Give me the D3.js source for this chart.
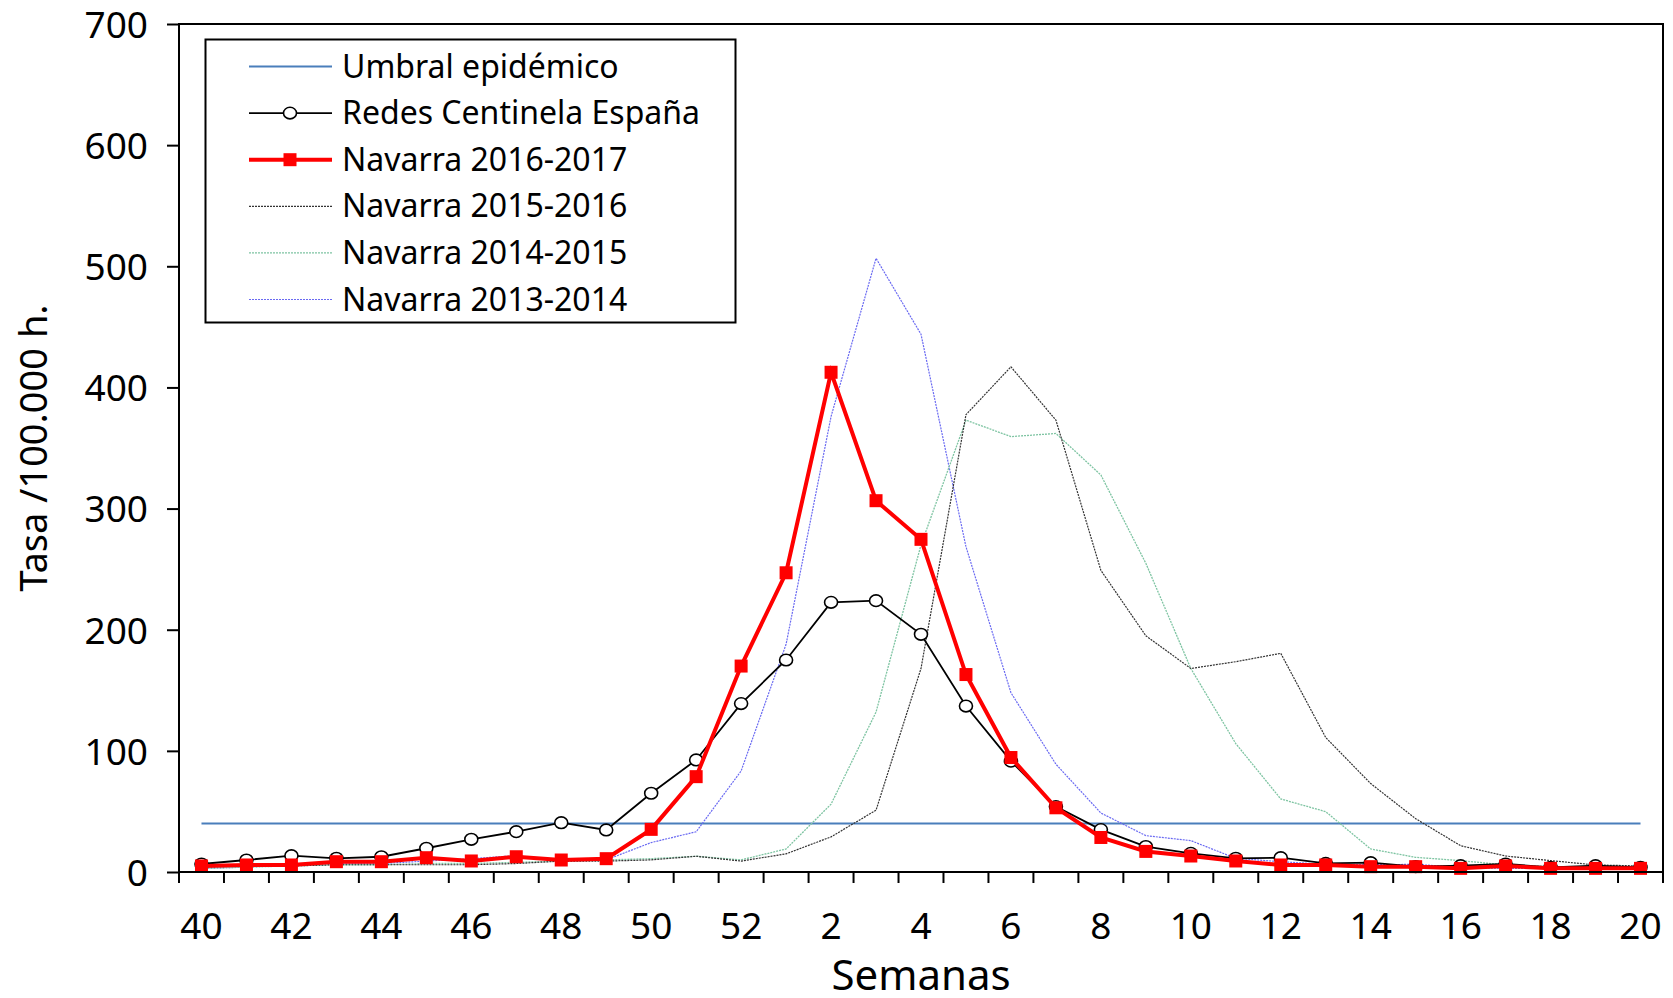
<!DOCTYPE html>
<html>
<head>
<meta charset="utf-8">
<script src="https://cdn.jsdelivr.net/npm/d3@7"></script>
<style>
  html, body { margin: 0; padding: 0; background: #fff; }
  svg { display: block; }
  text { font-family: "Noto Sans", "DejaVu Sans", sans-serif; fill: #000; }
</style>
</head>
<body>
<svg id="chart" width="1673" height="998"></svg>
<script>
// ---------- DATA ----------
const weeks = [40,41,42,43,44,45,46,47,48,49,50,51,52,1,2,3,4,5,6,7,8,9,10,11,12,13,14,15,16,17,18,19,20];
const labelWeeks = [40,42,44,46,48,50,52,2,4,6,8,10,12,14,16,18,20];
const yTicks = [0,100,200,300,400,500,600,700];

const umbralEpidemico = 40;

const redesCentinela = [6.6,9.9,13.5,11.3,12.6,19.6,27,33.3,40.7,34.7,65,92.5,139,175,222.6,224,196.2,137,91.5,54,35,21,15.4,11.3,11.8,7.1,7.7,4.5,5.2,6.6,3.9,5.2,3.9];
const navarra1617 = [5,5.8,5.8,8.5,8.5,11.8,9.1,12.6,9.9,11,35.2,78.7,170,247,412.5,306.5,274.6,163,94.5,53,28.5,17,13.2,9.1,5.8,5.8,4.4,4.4,3,5,3,3,3];
const navarra1516 = [4,5,5,6,6,6,6,7,9,9,10,13,9,15,29,51,168,377.5,417,373,249,195,168,173.6,180.5,111,73,44,21.7,13.2,9.4,5.8,5];
const navarra1415 = [3,4,5,6,6,7,7,8,9,10,11,13,10,19,56,132,270,373,359.4,362,327.7,254.8,168,106,60.3,49.8,19,12.1,9.4,5.8,4.4,4,4];
const navarra1314 = [3,4,6,7,7,9,11,13.5,9,10,24.3,33.2,83.4,188,376,506.6,443.9,268.5,148,89,48.7,30,25.9,11.3,8.5,6.3,6,6.3,3.8,3,3,3,3];

const seriesNames = ["Umbral epidémico","Redes Centinela España","Navarra 2016-2017","Navarra 2015-2016","Navarra 2014-2015","Navarra 2013-2014"];

// ---------- LAYOUT ----------
const svg = d3.select("#chart");
const pLeft = 179, pRight = 1663, pTop = 24, pBottom = 872;

const x = d3.scaleBand().domain(weeks).range([pLeft, pRight]).padding(0);
const y = d3.scaleLinear().domain([0, 700]).range([pBottom, pTop]);
const cx = w => x(w) + x.bandwidth() / 2;

// ---------- SERIES ----------
const line = d3.line().x((d, i) => cx(weeks[i])).y(d => y(d));

const styles = {
  s1314: { stroke: "#6a6af2", width: 1.2, dash: "2,1" },
  s1415: { stroke: "#7ec4a2", width: 1.3, dash: "2,1" },
  s1516: { stroke: "#333333", width: 1.2, dash: "2,1" },
  redes: { stroke: "#000", width: 1.8 },
  n1617: { stroke: "#ff0000", width: 4 },
  umbral: { stroke: "#4a7ebb", width: 2 }
};

const g = svg.append("g");

// threshold
g.append("line")
  .attr("x1", cx(weeks[0])).attr("x2", cx(weeks[weeks.length - 1]))
  .attr("y1", y(umbralEpidemico)).attr("y2", y(umbralEpidemico))
  .attr("stroke", styles.umbral.stroke).attr("stroke-width", styles.umbral.width);

function drawLine(data, st) {
  g.append("path").datum(data).attr("d", line)
    .attr("fill", "none").attr("stroke", st.stroke)
    .attr("stroke-width", st.width)
    .attr("stroke-dasharray", st.dash || null)
    .attr("stroke-linejoin", "miter");
}
drawLine(navarra1314, styles.s1314);
drawLine(navarra1415, styles.s1415);
drawLine(navarra1516, styles.s1516);
drawLine(redesCentinela, styles.redes);
g.selectAll("ellipse.redes").data(redesCentinela).enter().append("ellipse")
  .attr("class", "redes")
  .attr("cx", (d, i) => cx(weeks[i])).attr("cy", d => y(d))
  .attr("rx", 6.5).attr("ry", 5.8)
  .attr("fill", "#fff").attr("stroke", "#000").attr("stroke-width", 1.6);
drawLine(navarra1617, styles.n1617);
g.selectAll("rect.n1617").data(navarra1617).enter().append("rect")
  .attr("class", "n1617")
  .attr("x", (d, i) => cx(weeks[i]) - 6.5).attr("y", d => y(d) - 6.5)
  .attr("width", 13).attr("height", 13).attr("fill", "#ff0000");

// ---------- AXES / FRAME ----------
svg.append("rect").attr("x", pLeft).attr("y", pTop)
  .attr("width", pRight - pLeft).attr("height", pBottom - pTop)
  .attr("fill", "none").attr("stroke", "#000").attr("stroke-width", 2);

const yAxis = svg.append("g").attr("transform", `translate(${pLeft},0)`)
  .call(d3.axisLeft(y).tickValues(yTicks).tickSize(12).tickPadding(19).tickFormat(d3.format("d")));
yAxis.select(".domain").remove();
yAxis.selectAll("line").attr("stroke", "#000").attr("stroke-width", 2);
yAxis.selectAll("text").attr("font-size", 37).attr("font-family", "Noto Sans").attr("dy", "0.36em");

// boundary ticks on x axis
const bounds = weeks.map(w => x(w)).concat([pRight]);
svg.append("g").selectAll("line").data(bounds).enter().append("line")
  .attr("x1", d => d).attr("x2", d => d)
  .attr("y1", pBottom).attr("y2", pBottom + 11)
  .attr("stroke", "#000").attr("stroke-width", 2);

const xAxis = svg.append("g").attr("transform", `translate(0,${pBottom})`)
  .call(d3.axisBottom(x).tickValues(labelWeeks).tickSize(0).tickPadding(42));
xAxis.select(".domain").remove();
xAxis.selectAll("text").attr("font-size", 37).attr("font-family", "Noto Sans")
  .attr("dy", null).attr("y", 67);

// titles
svg.append("text").attr("x", (pLeft + pRight) / 2).attr("y", 990)
  .attr("text-anchor", "middle").attr("font-size", 42).text("Semanas");
svg.append("text").attr("transform", `translate(47,${(pTop + pBottom) / 2}) rotate(-90)`)
  .attr("text-anchor", "middle").attr("font-size", 38).text("Tasa /100.000 h.");

// ---------- LEGEND ----------
const lg = svg.append("g");
lg.append("rect").attr("x", 205.5).attr("y", 39.5).attr("width", 530).attr("height", 283)
  .attr("fill", "#fff").attr("stroke", "#000").attr("stroke-width", 2);
const legendStyles = [styles.umbral, styles.redes, styles.n1617, styles.s1516, styles.s1415, styles.s1314];
const markers = [null, "circle", "square", null, null, null];
seriesNames.forEach((name, i) => {
  const yy = 66.5 + i * 46.6;
  const st = legendStyles[i];
  lg.append("line").attr("x1", 249).attr("x2", 332).attr("y1", yy).attr("y2", yy)
    .attr("stroke", st.stroke).attr("stroke-width", st.width)
    .attr("stroke-dasharray", st.dash || null);
  if (markers[i] === "circle") {
    lg.append("ellipse").attr("cx", 290).attr("cy", yy).attr("rx", 6.5).attr("ry", 5.8)
      .attr("fill", "#fff").attr("stroke", "#000").attr("stroke-width", 1.6);
  } else if (markers[i] === "square") {
    lg.append("rect").attr("x", 290 - 6.5).attr("y", yy - 6.5).attr("width", 13).attr("height", 13)
      .attr("fill", "#ff0000");
  }
  lg.append("text").attr("x", 342).attr("y", yy + 11).attr("font-size", 32).text(name);
});
</script>
</body>
</html>
